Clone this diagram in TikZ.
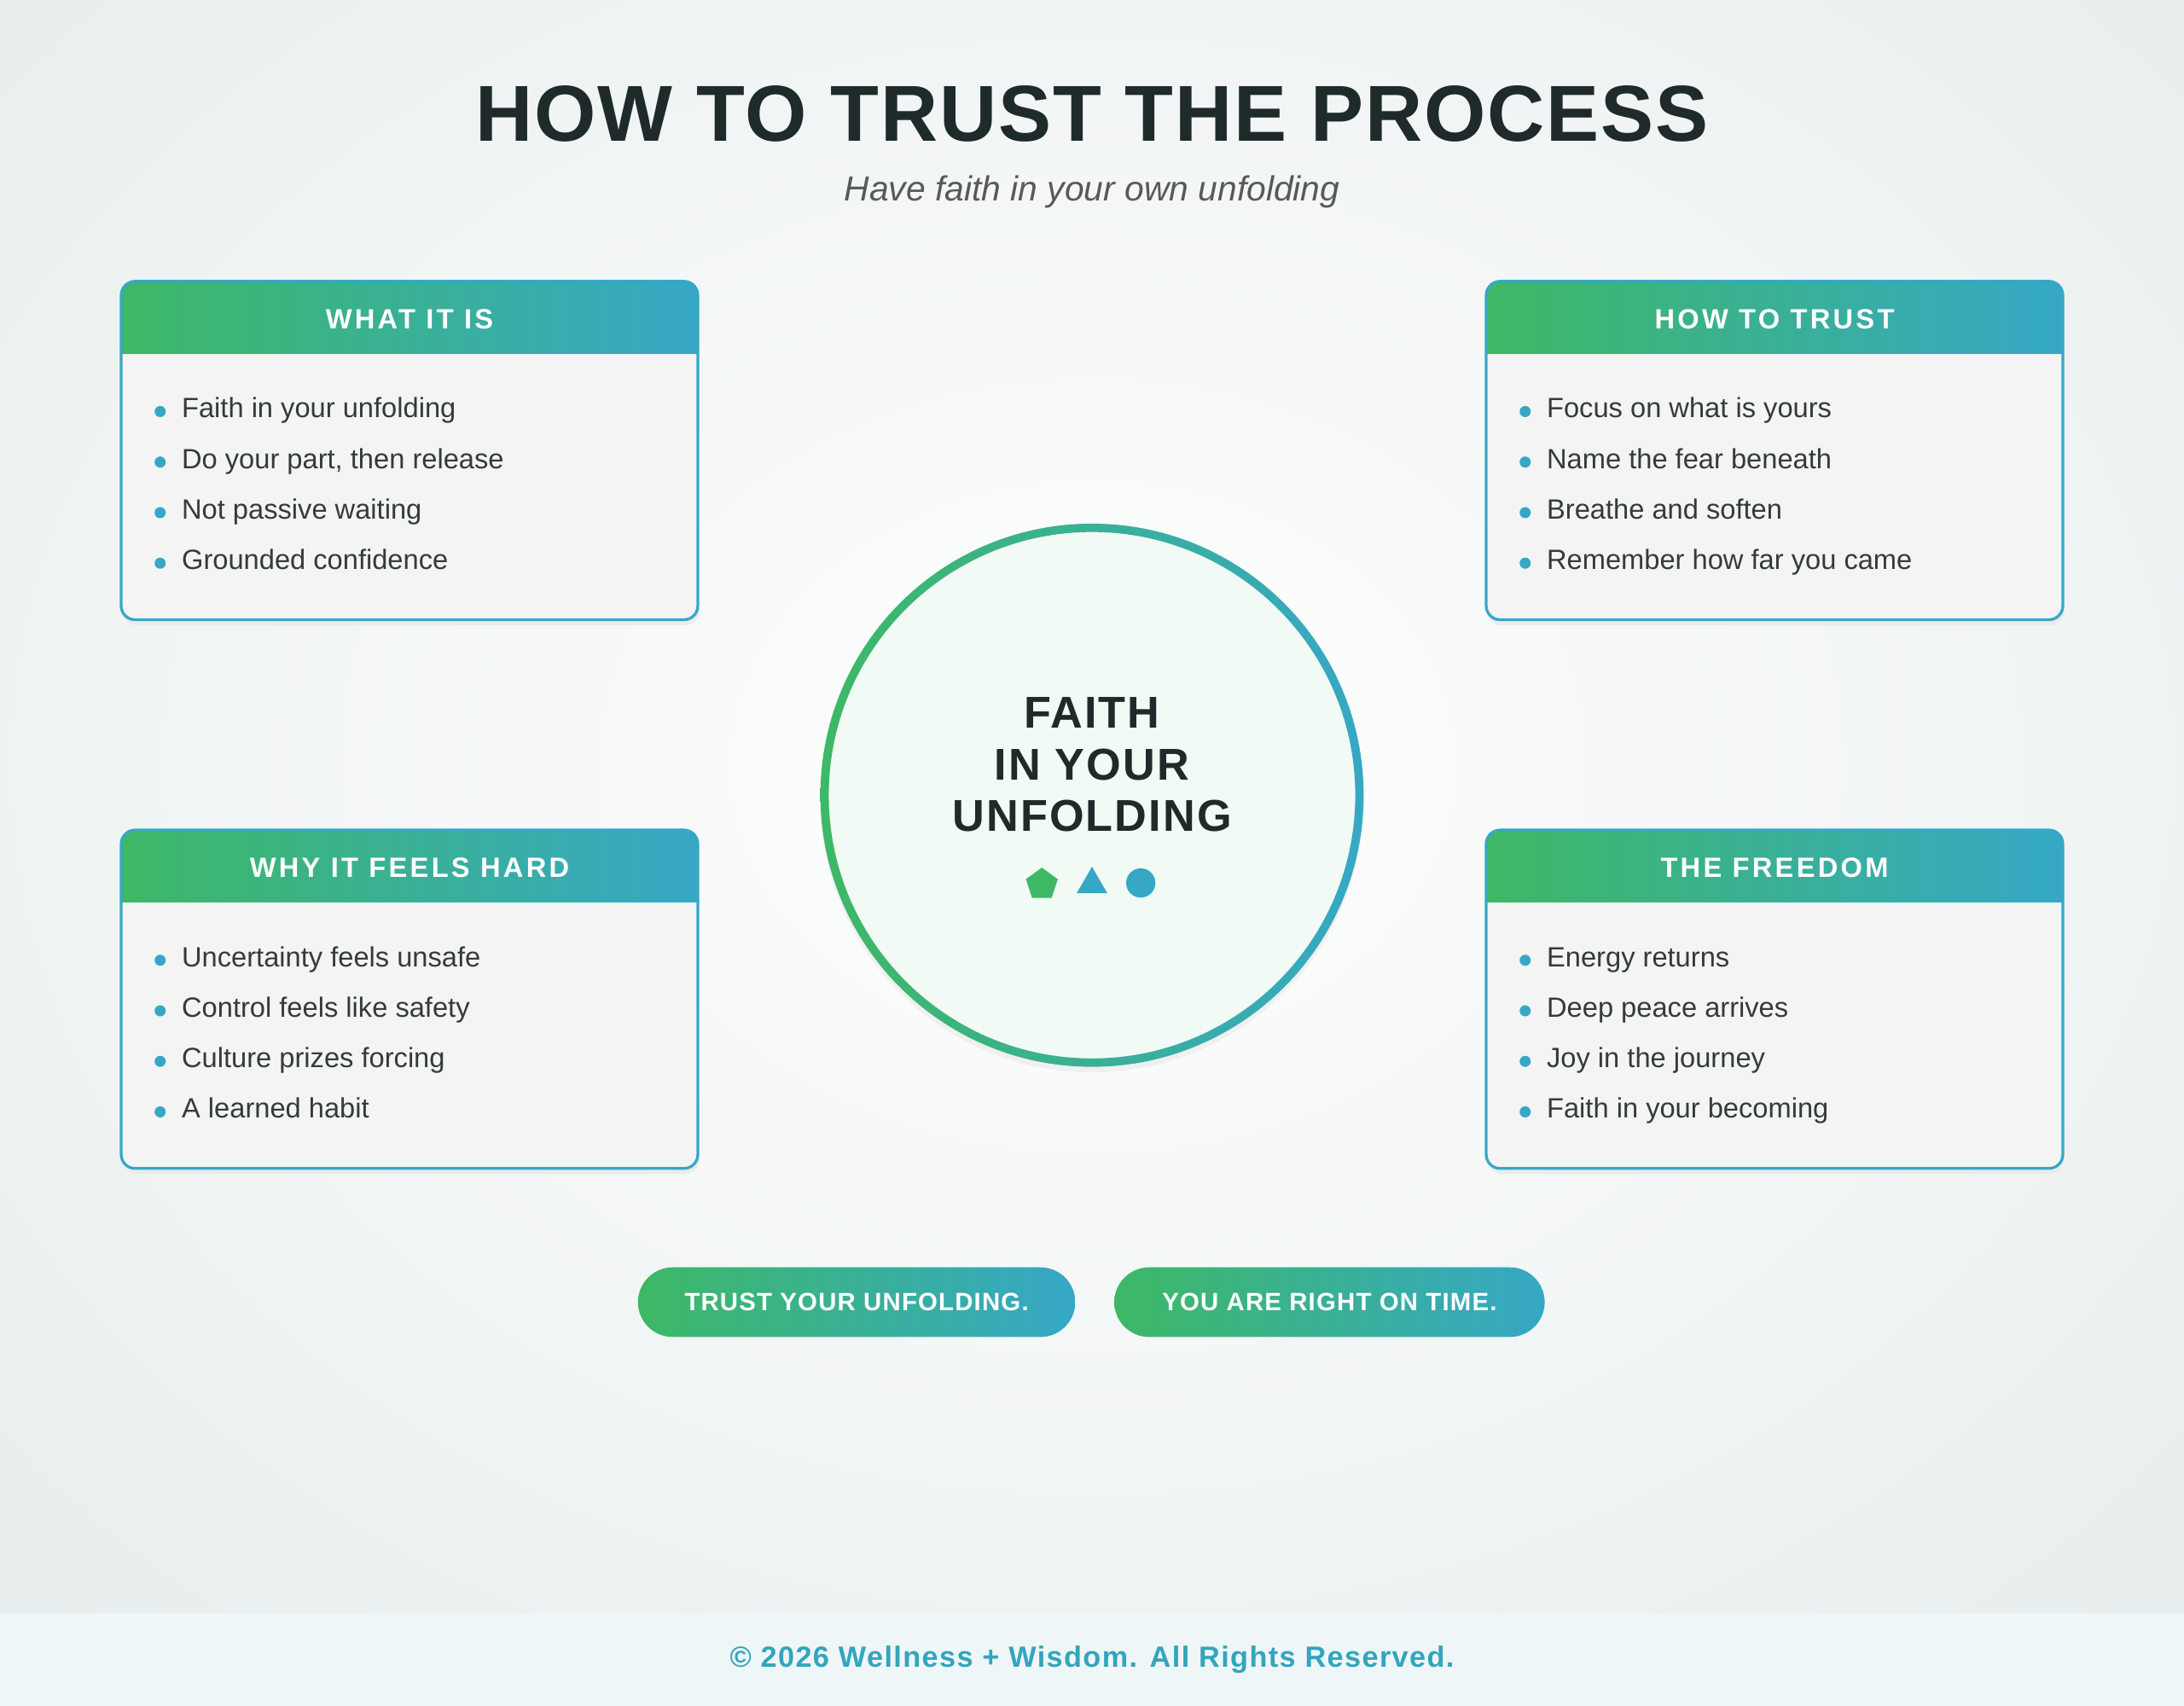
\documentclass[tikz,border=0pt]{standalone}
\usepackage{fontspec}
\setmainfont{Liberation Sans}
\usetikzlibrary{shapes.geometric}
\definecolor{gA}{HTML}{3DB865}
\definecolor{tB}{HTML}{36A8C6}
\definecolor{ink}{HTML}{1F2A2A}
\definecolor{txt}{HTML}{333B3B}
\definecolor{bgO}{HTML}{E8EEED}
\definecolor{foot}{HTML}{EFF6F7}
\definecolor{footT}{HTML}{33A5BE}
\definecolor{bodyF}{HTML}{F4F4F4}
\tikzset{
  hdr/.style={font=\bfseries\fontsize{20}{24}\selectfont\addfontfeature{LetterSpace=10}, text=white},
  item/.style={font=\fontsize{20}{24}\selectfont, text=txt, anchor=base west},
  dot/.style={circle, fill=tB, inner sep=0pt, minimum size=8pt},
  pill/.style={font=\bfseries\fontsize{18}{22}\selectfont\addfontfeature{LetterSpace=4}, text=white},
}
\newcommand{\mybox}[3]{%
  \begin{scope}
    \fill[black!8, rounded corners=10pt] (#1+1,#2+4) rectangle (#1+415,#2+247);
    \fill[bodyF, rounded corners=10pt] (#1,#2) rectangle (#1+414,#2+243);
    \begin{scope}
      \clip[rounded corners=10pt] (#1,#2) rectangle (#1+414,#2+243);
      \shade[left color=gA, right color=tB] (#1,#2) rectangle (#1+414,#2+52);
    \end{scope}
    \draw[tB, line width=2pt, rounded corners=10pt] (#1,#2) rectangle (#1+414,#2+243);
    \node[hdr] (h#1#2) at (#1+207,#2+27) {#3};
  \end{scope}}
\newcommand{\items}[6]{%
  \foreach \t [count=\i] in {#3,#4,#5,#6}{
    \node[dot] (d\i) at (#1+28,{#2+93.5+36.3*(\i-1)}) {};
    \node[item] (t\i) at (#1+40,{#2+98+36.3*(\i-1)}) {\t};
  }}
\begin{document}
\begin{tikzpicture}[x=1pt,y=-1pt]
\useasboundingbox (0,0) rectangle (1568,1225);
\fill[bgO] (0,0) rectangle (1568,1225);
\shade[inner color=white, outer color=bgO] (-300,-300) rectangle (1868,1400);
\fill[foot] (0,1158) rectangle (1568,1225);
\node[font=\bfseries\fontsize{21}{25}\selectfont\addfontfeature{LetterSpace=4}, text=footT] (foot) at (784,1192) {© 2026 Wellness + Wisdom. All Rights Reserved.};
\node[font=\bfseries\fontsize{57}{66}\selectfont\addfontfeature{LetterSpace=2}, text=ink] (title) at (784,82) {HOW TO TRUST THE PROCESS};
\node[font=\itshape\fontsize{25}{30}\selectfont, text=black!65] (sub) at (784,138) {Have faith in your own unfolding};

\mybox{87}{202}{WHAT IT IS}
\items{87}{202}{Faith in your unfolding}{{Do your part, then release}}{Not passive waiting}{Grounded confidence}
\mybox{1067}{202}{HOW TO TRUST}
\items{1067}{202}{Focus on what is yours}{Name the fear beneath}{Breathe and soften}{Remember how far you came}
\mybox{87}{596}{WHY IT FEELS HARD}
\items{87}{596}{Uncertainty feels unsafe}{Control feels like safety}{Culture prizes forcing}{A learned habit}
\mybox{1067}{596}{THE FREEDOM}
\items{1067}{596}{Energy returns}{Deep peace arrives}{Joy in the journey}{Faith in your becoming}

% center circle
\coordinate (c) at (784,571);
\fill[black!6] (784,575) circle (195);
\fill[white!93!gA] (c) circle (192);
\shade[shading angle=135, left color=gA, right color=tB, even odd rule] (c) circle (195) (c) circle (189);
\node[font=\bfseries\fontsize{32}{37}\selectfont\addfontfeature{LetterSpace=4}, text=ink, align=center] (ct) at (784,549) {FAITH\\IN YOUR\\UNFOLDING};
\node[regular polygon, regular polygon sides=5, fill=gA, inner sep=0pt, minimum size=24pt] (pent) at (748,635) {};
\node[isosceles triangle, isosceles triangle apex angle=60, shape border rotate=90, fill=tB, inner sep=0pt, minimum height=19pt] (tri) at (784,635) {};
\node[circle, fill=tB, inner sep=0pt, minimum size=21pt] (circ) at (819,634) {};

% pills
\shade[left color=gA, right color=tB, rounded corners=25pt] (458,910) rectangle (772,960);
\node[pill] (p1) at (615,935) {TRUST YOUR UNFOLDING.};
\shade[left color=gA, right color=tB, rounded corners=25pt] (800,910) rectangle (1109,960);
\node[pill] (p2) at (954.5,935) {YOU ARE RIGHT ON TIME.};
\end{tikzpicture}
\end{document}
